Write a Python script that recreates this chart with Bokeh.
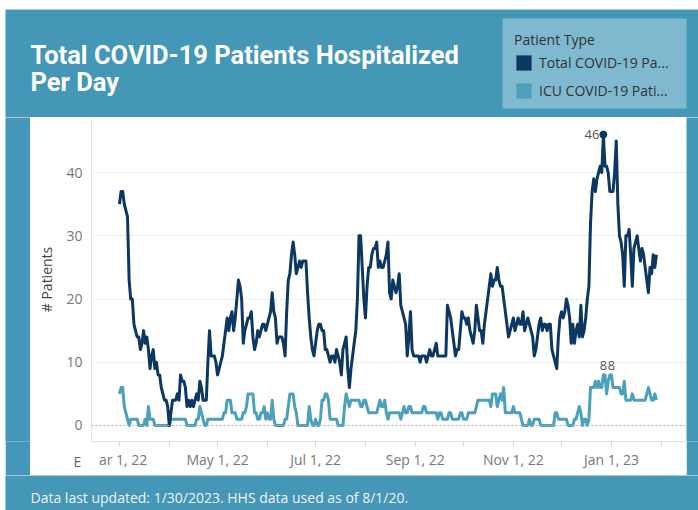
import numpy as np
import pandas as pd
from bokeh.plotting import figure
from bokeh.models import (Range1d, FixedTicker, CustomJSTickFormatter, Span, Label, Title,
                          Legend, LegendItem, ColumnDataSource)
from bokeh.layouts import column, row
from bokeh.embed import file_html
from bokeh.resources import INLINE
from bokeh.core.properties import value

# ---------------- data ----------------
START_DATE = "2022-03-01"

total_patients = [
    35, 37, 37, 35, 34, 33, 23, 20, 20, 16,
    15, 14, 14, 12, 13, 15, 13, 14, 12, 9,
    11, 12, 9, 10, 8, 8, 6, 5, 4, 4,
    3, 0, 2, 4, 4, 4, 5, 4, 8, 7,
    7, 6, 3, 4, 3, 4, 3, 4, 5, 4,
    7, 6, 4, 4, 4, 10, 15, 11, 11, 11,
    10, 8, 9, 10, 11, 13, 15, 17, 15, 17,
    18, 15, 17, 20, 23, 22, 20, 13, 15, 16,
    17, 17, 18, 14, 12, 13, 15, 14, 15, 16,
    16, 15, 16, 17, 18, 21, 18, 17, 13, 14,
    14, 14, 13, 11, 18, 23, 24, 27, 29, 27,
    24, 25, 26, 25, 26, 26, 26, 21, 17, 14,
    12, 11, 13, 15, 16, 16, 15, 15, 12, 12,
    11, 10, 11, 11, 10, 12, 11, 10, 8, 12,
    13, 14, 9, 6, 9, 11, 13, 15, 20, 30,
    30, 25, 20, 17, 22, 25, 25, 27, 28, 28,
    29, 25, 26, 25, 25, 26, 27, 29, 21, 20,
    23, 22, 21, 22, 24, 19, 18, 17, 16, 11,
    14, 18, 12, 11, 11, 11, 11, 10, 11, 11,
    11, 10, 11, 12, 11, 11, 12, 13, 11, 11,
    11, 11, 11, 11, 19, 18, 17, 15, 13, 11,
    12, 12, 15, 18, 17, 17, 16, 17, 15, 14,
    13, 15, 19, 17, 15, 15, 13, 16, 18, 20,
    22, 24, 22, 23, 23, 25, 23, 22, 22, 20,
    18, 16, 14, 15, 16, 17, 15, 16, 17, 16,
    16, 18, 15, 16, 17, 16, 15, 14, 11, 12,
    14, 16, 17, 15, 16, 16, 15, 16, 16, 12,
    11, 10, 9, 14, 17, 18, 17, 18, 20, 19,
    17, 13, 16, 13, 15, 16, 14, 19, 14, 15,
    17, 20, 22, 32, 37, 39, 37, 39, 40, 41,
    40, 46, 41, 41, 40, 37, 37, 37, 40, 45,
    35, 30, 29, 27, 22, 30, 30, 31, 27, 22,
    28, 29, 30, 28, 26, 28, 27, 25, 23, 21,
    25, 24, 27, 25, 27,
]

icu_patients = [
    5, 6, 6, 3, 2, 1, 0, 1, 1, 1,
    1, 1, 0, 0, 0, 0, 1, 0, 3, 1,
    1, 1, 0, 0, 0, 0, 0, 0, 0, 0,
    0, 0, 1, 1, 1, 1, 1, 1, 1, 1,
    1, 1, 0, 0, 0, 0, 0, 0, 1, 1,
    3, 2, 1, 0, 0, 1, 1, 1, 1, 1,
    1, 1, 1, 1, 1, 2, 2, 4, 4, 4,
    2, 2, 2, 1, 1, 1, 1, 2, 2, 3,
    5, 5, 5, 5, 2, 2, 1, 1, 2, 2,
    3, 1, 2, 1, 1, 4, 1, 0, 0, 0,
    0, 0, 0, 1, 1, 3, 5, 5, 5, 3,
    2, 0, 0, 0, 0, 0, 0, 0, 3, 1,
    0, 0, 1, 0, 0, 1, 4, 4, 5, 5,
    4, 1, 1, 1, 1, 1, 0, 0, 0, 0,
    3, 5, 4, 3, 4, 4, 4, 4, 4, 4,
    3, 3, 4, 4, 3, 2, 2, 2, 2, 2,
    2, 3, 4, 3, 3, 4, 2, 1, 2, 2,
    2, 2, 2, 2, 2, 1, 2, 3, 2, 2,
    3, 3, 2, 2, 2, 2, 2, 2, 2, 3,
    3, 2, 2, 2, 2, 2, 2, 2, 1, 2,
    2, 1, 1, 1, 1, 2, 2, 1, 1, 1,
    1, 1, 2, 2, 1, 1, 1, 2, 2, 2,
    2, 2, 3, 4, 4, 4, 4, 4, 4, 4,
    4, 3, 5, 5, 5, 3, 4, 5, 4, 6,
    2, 2, 2, 2, 2, 3, 2, 2, 2, 2,
    1, 0, 0, 0, 0, 1, 0, 0, 1, 1,
    1, 1, 0, 0, 0, 0, 0, 0, 0, 0,
    0, 2, 2, 1, 1, 1, 1, 1, 1, 0,
    0, 0, 0, 1, 1, 2, 3, 2, 0, 1,
    1, 0, 1, 6, 6, 6, 7, 6, 7, 6,
    6, 8, 8, 5, 7, 8, 8, 6, 6, 6,
    6, 6, 5, 5, 7, 4, 4, 4, 4, 5,
    4, 4, 4, 4, 4, 4, 4, 4, 5, 6,
    5, 4, 4, 5, 4,
]

y_ticks = [0, 10, 20, 30, 40]
x_tick_dates = ["2022-03-01", "2022-04-01", "2022-05-01", "2022-06-01", "2022-07-01",
                "2022-08-01", "2022-09-01", "2022-10-01", "2022-11-01", "2022-12-01",
                "2023-01-01", "2023-02-01"]
x_tick_labels = ["\u00a0\u00a0ar 1, 22", "", "May 1, 22", "", "Jul 1, 22", "",
                 "Sep 1, 22", "", "Nov 1, 22", "", "Jan 1, 23", ""]
series_names = ["Total COVID-19 Pa...", "ICU COVID-19 Pati..."]
legend_title = "Patient Type"
title_lines = ["Total COVID-19 Patients Hospitalized", "Per Day"]
y_title = "# Patients"
footer_text = "Data last updated: 1/30/2023. HHS data used as of 8/1/20."
corner_text = "E"

# ---------------- styles ----------------
TEAL = "#4497b7"
LEGEND_BG = "#7fb9d0"
TOTAL_COLOR = "#0c3763"
ICU_COLOR = "#4ba0bd"
FONT = "Open Sans"
TITLE_FONT = "Roboto"

dates = pd.date_range(START_DATE, periods=len(total_patients), freq="D")
src = ColumnDataSource(dict(date=dates, total=total_patients, icu=icu_patients))

# ---------------- main chart ----------------
x0 = pd.Timestamp(START_DATE)
main = figure(width=656, height=358, x_axis_type="datetime",
              x_range=Range1d(x0 - pd.Timedelta(days=17.4), x0 + pd.Timedelta(days=352.7)),
              y_range=Range1d(-2.53, 48.7),
              output_backend="svg", toolbar_location=None,
              min_border_left=61, min_border_right=0, min_border_top=0, min_border_bottom=34,
              background_fill_color="white", border_fill_color="white")
main.outline_line_color = None

tick_ms = [pd.Timestamp(d).value / 1e6 for d in x_tick_dates]
main.xaxis.ticker = FixedTicker(ticks=tick_ms)
main.xaxis.formatter = CustomJSTickFormatter(
    args=dict(tick_vals=tick_ms, tick_texts=x_tick_labels),
    code="""
    for (let i = 0; i < tick_vals.length; i++) {
        if (Math.abs(tick_vals[i] - tick) < 1000) { return tick_texts[i]; }
    }
    return "";
    """)
main.xaxis.axis_line_color = "#e2e2e2"
main.xaxis.major_tick_line_color = "#d4d4d4"
main.xaxis.major_tick_out = 5
main.xaxis.major_tick_in = 0
main.xaxis.minor_tick_line_color = None
main.xaxis.minor_tick_out = 0
main.xaxis.major_label_standoff = 3
main.xaxis.major_label_text_font = FONT
main.xaxis.major_label_text_font_size = "14px"
main.xaxis.major_label_text_color = "#777777"

main.yaxis.ticker = FixedTicker(ticks=y_ticks)
main.yaxis.axis_label = y_title
main.yaxis.axis_label_text_font = FONT
main.yaxis.axis_label_text_font_style = "normal"
main.yaxis.axis_label_text_font_size = "14px"
main.yaxis.axis_label_text_color = "#444444"
main.yaxis.axis_label_standoff = 7
main.yaxis.axis_line_color = "#e6e6e6"
main.yaxis.major_tick_line_color = None
main.yaxis.minor_tick_line_color = None
main.yaxis.major_tick_out = 0
main.yaxis.major_tick_in = 0
main.yaxis.minor_tick_out = 0
main.yaxis.major_label_standoff = 9
main.yaxis.major_label_text_font = FONT
main.yaxis.major_label_text_font_size = "14px"
main.yaxis.major_label_text_color = "#777777"

main.xgrid.grid_line_color = None
main.ygrid.ticker = FixedTicker(ticks=y_ticks[1:])
main.ygrid.grid_line_color = "#dddddd"
main.ygrid.grid_line_dash = "2 2"
main.add_layout(Span(location=y_ticks[0], dimension="width", line_color="#aaaaaa",
                     line_dash="2 2", line_width=1))

main.line("date", "icu", source=src, line_color=ICU_COLOR, line_width=3, line_join="round")
main.line("date", "total", source=src, line_color=TOTAL_COLOR, line_width=3, line_join="round")

imax = int(np.argmax(total_patients))
main.scatter([dates[imax]], [total_patients[imax]], size=7, color=TOTAL_COLOR)
main.text([dates[imax]], [total_patients[imax]], text=[str(total_patients[imax])],
          x_offset=-4, text_align="right", text_baseline="middle",
          text_font=value(FONT), text_font_size="13px", text_color="#555555")

icu_max = max(icu_patients)
icu_idx = [i for i, v in enumerate(icu_patients) if v == icu_max]
lab_idx = [icu_idx[0], icu_idx[-1]]
main.text([dates[i] for i in lab_idx], [icu_patients[i] for i in lab_idx],
          text=[str(icu_max)] * len(lab_idx), y_offset=-5,
          text_align="center", text_baseline="bottom",
          text_font=value(FONT), text_font_size="13px", text_color="#555555")

# small clipped header glyph at the lower-left of the panel
main.add_layout(Title(text=corner_text, align="left", offset=-18, standoff=-40,
                      vertical_align="top", text_font=FONT, text_font_style="normal",
                      text_font_size="14px", text_color="#666666"), "below")


# ---------------- frame pieces ----------------
def pad_fig(w, h, color=TEAL):
    f = figure(width=w, height=h, x_range=Range1d(0, w), y_range=Range1d(0, h),
               x_axis_type=None, y_axis_type=None, min_border=0,
               output_backend="svg", toolbar_location=None,
               background_fill_color=color, border_fill_color=color)
    f.outline_line_color = None
    return f


header = pad_fig(693, 108)
header.add_layout(Label(x=25, y=63, text=title_lines[0], text_color="white",
                        text_font=TITLE_FONT, text_font_style="bold", text_font_size="25.5px",
                        text_baseline="alphabetic"))
header.add_layout(Label(x=25, y=36, text=title_lines[1], text_color="white",
                        text_font=TITLE_FONT, text_font_style="bold", text_font_size="25.5px",
                        text_baseline="alphabetic"))
header.quad(left=[497], right=[681], bottom=[9], top=[99], fill_color=LEGEND_BG, line_color=None)
r_total = header.quad(left=[np.nan], right=[np.nan], bottom=[np.nan], top=[np.nan],
                      fill_color=TOTAL_COLOR, line_color=None)
r_icu = header.quad(left=[np.nan], right=[np.nan], bottom=[np.nan], top=[np.nan],
                    fill_color=ICU_COLOR, line_color=None)
legend = Legend(items=[LegendItem(label=series_names[0], renderers=[r_total]),
                       LegendItem(label=series_names[1], renderers=[r_icu])],
                location=(509, 17), title=legend_title,
                background_fill_alpha=0, border_line_color=None, padding=8, spacing=9,
                margin=0, glyph_width=19, glyph_height=19, label_height=19, label_standoff=6,
                label_text_font=FONT, label_text_font_size="14px", label_text_color="#333333",
                title_text_font=FONT, title_text_font_style="normal", title_text_font_size="14px",
                title_text_color="#333333", title_standoff=4)
header.add_layout(legend)

left_pad = pad_fig(25, 358)
right_pad = pad_fig(12, 358)
footer = pad_fig(693, 35)
footer.add_layout(Label(x=25, y=13, text=footer_text, text_color="#f2f2f2",
                        text_font=FONT, text_font_size="14px", text_baseline="middle"))

top_strip = pad_fig(698, 9, "white")
left_strip = pad_fig(5, 501, "white")

layout = column(top_strip,
                row(left_strip,
                    column(header, row(left_pad, main, right_pad), footer)))

open("out.html", "w").write(file_html(layout, INLINE))
